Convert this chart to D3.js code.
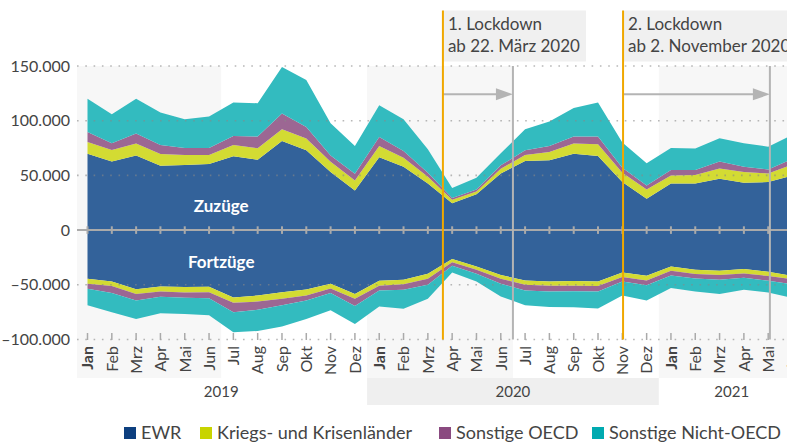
<!DOCTYPE html>
<html><head><meta charset="utf-8">
<script src="https://cdn.jsdelivr.net/npm/d3@7"></script>
<style>body{margin:0;background:#fff}svg{display:block;font-family:Lato,"Open Sans",sans-serif}</style>
</head><body><svg id="c" width="787" height="443"></svg>
<script>
// ---------- data ----------
const monthNames = ["Jan","Feb","Mrz","Apr","Mai","Jun","Jul","Aug","Sep","Okt","Nov","Dez"];
const years = [2019, 2020, 2021];
const nPeriods = 30; // Jan 2019 .. Jun 2021
const seriesNames = ["EWR", "Kriegs- und Krisenländer", "Sonstige OECD", "Sonstige Nicht-OECD"];
const seriesColors = ["#33629a", "#d3db33", "#9c6793", "#33bbbf"];
const legendColors = ["#0d3f7f", "#c8d400", "#8a4a80", "#00aab0"];

const zuzuegeEWR = [69900,62800,68300,58900,59500,60400,67400,64400,81500,72900,53000,36200,66500,58000,42700,24500,32800,51800,63100,63800,69900,67700,43900,28600,42700,42700,47000,43300,43900,50000];
const zuzuegeKrieg = [10700,10400,10800,10700,9200,8300,10400,10400,10700,10800,9500,9200,10400,8200,6100,3300,2500,4300,5500,7600,9200,10700,8600,8600,7300,7600,9400,9700,7900,10000];
const zuzuegeOECD = [9100,6200,9200,8200,6400,6400,8300,10700,14400,10600,5800,6100,8300,6100,3700,1500,1900,3100,4300,5500,6400,7100,4600,3600,4900,4600,6200,5000,3700,5000];
const zuzuegeNichtOECD = [30300,26600,31700,29700,26300,28700,30600,30500,42400,42900,29400,25400,29000,29100,21400,9100,10700,11000,19300,22300,26000,31200,22900,20200,20200,19600,21300,21400,20800,22000];

const fortzuegeEWR = [-44500,-47000,-54000,-51500,-52100,-51800,-61600,-59800,-56700,-54300,-49100,-58500,-46300,-45400,-39900,-26400,-33200,-41100,-46000,-47000,-46600,-47000,-38700,-41700,-33200,-36200,-37200,-35600,-38100,-42000];
const fortzuegeKrieg = [-4600,-4200,-4500,-4600,-4900,-4900,-4900,-5500,-6100,-5500,-4300,-4300,-4600,-4000,-4600,-3100,-3000,-3400,-4000,-3900,-4300,-4200,-4200,-4300,-4000,-4000,-3900,-4000,-3900,-3000];
const fortzuegeOECD = [-4600,-6400,-5900,-4900,-4900,-5500,-8500,-7600,-5800,-4600,-4200,-6500,-4300,-5200,-5500,-3100,-3700,-4600,-5200,-5200,-4900,-4900,-4100,-4300,-4200,-4000,-4300,-4000,-4300,-4500];
const fortzuegeNichtOECD = [-14900,-17400,-16800,-15000,-14700,-15600,-18400,-19300,-19600,-16800,-15600,-16500,-14700,-17400,-12800,-6100,-7100,-11600,-13400,-14100,-14700,-15600,-12800,-14100,-11600,-11900,-13100,-11000,-10700,-12500];

const yTicks = [-100000, -50000, 0, 50000, 100000, 150000];
// lockdowns: start/end as fractional month index (0 = Jan 2019)
const lockdowns = [
  {line1: "1. Lockdown", line2: "ab 22. März 2020", start: 14.62, end: 17.5},
  {line1: "2. Lockdown", line2: "ab 2. November 2020", start: 22.03, end: 28.07}
];

// ---------- setup ----------
const svg = d3.select("#c");
const W = 787;
const plotLeft = 77, plotTop = 66, plotBottom = 339.5, labelBottom = 378, yearBottom = 405;
const x = d3.scaleLinear().domain([0, 29]).range([87.5, 792.5]);
const y = d3.scaleLinear().domain([-100000, 150000]).range([339.5, 66]);
const loc = d3.formatLocale({decimal: ",", thousands: ".", grouping: [3], currency: ["", ""], minus: "–"});
const fmt = loc.format(",");
const textCol = "#444";

// background half-year bands
for (let h = 0; h < 5; h += 2) {
  const x0 = Math.max(plotLeft, x(h * 6 - 0.5));
  const x1 = x(h * 6 + 5.5);
  svg.append("rect").attr("x", x0).attr("y", plotTop).attr("width", x1 - x0)
    .attr("height", labelBottom - plotTop).attr("fill", "#f7f7f7");
}
// year band 2020
svg.append("rect").attr("x", x(11.5)).attr("y", labelBottom).attr("width", x(23.5) - x(11.5))
  .attr("height", yearBottom - labelBottom).attr("fill", "#efefef");

// ---------- areas ----------
const idx = d3.range(nPeriods);
const inRows = idx.map(i => ({i, s0: zuzuegeEWR[i], s1: zuzuegeKrieg[i], s2: zuzuegeOECD[i], s3: zuzuegeNichtOECD[i]}));
const outRows = idx.map(i => ({i, s0: fortzuegeEWR[i], s1: fortzuegeKrieg[i], s2: fortzuegeOECD[i], s3: fortzuegeNichtOECD[i]}));
const keys = ["s0", "s1", "s2", "s3"];
const stack = d3.stack().keys(keys).offset(d3.stackOffsetDiverging);
const area = d3.area().x(d => x(d.data.i)).y0(d => y(d[0])).y1(d => y(d[1]));
[stack(inRows), stack(outRows)].forEach(st => {
  st.forEach((layer, k) => {
    svg.append("path").attr("d", area(layer)).attr("fill", seriesColors[k]);
  });
});

// gridlines
yTicks.filter(v => v !== 0).forEach(v => {
  svg.append("line").attr("x1", plotLeft).attr("x2", W).attr("y1", y(v)).attr("y2", y(v))
    .attr("stroke", "#888").attr("stroke-opacity", 0.6).attr("stroke-width", 1.6)
    .attr("stroke-dasharray", "1.6,6.7");
});
// y labels
yTicks.forEach(v => {
  svg.append("text").attr("x", 70).attr("y", y(v)).attr("dy", "0.35em")
    .attr("text-anchor", "end").attr("font-size", 16).attr("fill", textCol).text(fmt(v));
});

// zero line + ticks
svg.append("line").attr("x1", plotLeft).attr("x2", W).attr("y1", y(0)).attr("y2", y(0))
  .attr("stroke", "#aaa").attr("stroke-width", 2);
idx.forEach(i => {
  svg.append("line").attr("x1", x(i)).attr("x2", x(i)).attr("y1", y(0) - 3.8).attr("y2", y(0) + 3.8)
    .attr("stroke", "#aaa").attr("stroke-width", 2);
  svg.append("line").attr("x1", x(i)).attr("x2", x(i)).attr("y1", y(-100000) - 6.5).attr("y2", y(-100000) + 0.5)
    .attr("stroke", "#aaa").attr("stroke-width", 1.5);
});

// month labels
idx.forEach(i => {
  const m = i % 12;
  svg.append("text").attr("transform", `translate(${x(i)},346) rotate(-90)`)
    .attr("dy", "0.36em").attr("text-anchor", "end").attr("font-size", 16)
    .attr("font-weight", m === 0 ? "bold" : "normal").attr("fill", textCol).text(monthNames[m]);
});
// year labels
years.forEach((yr, k) => {
  const i0 = k * 12, i1 = Math.min(k * 12 + 11, nPeriods - 1);
  const cx = (x(i0 - 0.5) + x(i1 + 0.5)) / 2;
  svg.append("text").attr("x", cx).attr("y", 392).attr("dy", "0.35em").attr("text-anchor", "middle")
    .attr("font-size", 15).attr("fill", textCol).text(yr);
});

// series labels
svg.append("text").attr("x", x(5.5)).attr("y", 206).attr("dy", "0.35em").attr("text-anchor", "middle")
  .attr("font-size", 17).attr("font-weight", "bold").attr("fill", "#fff").text("Zuzüge");
svg.append("text").attr("x", x(5.5)).attr("y", 262).attr("dy", "0.35em").attr("text-anchor", "middle")
  .attr("font-size", 17).attr("font-weight", "bold").attr("fill", "#fff").text("Fortzüge");

// ---------- lockdown annotations ----------
lockdowns.forEach(ld => {
  const xs = x(ld.start), xe = x(ld.end);
  svg.append("line").attr("x1", xe).attr("x2", xe).attr("y1", plotTop).attr("y2", plotBottom)
    .attr("stroke", "#b4b4b4").attr("stroke-width", 2);
  svg.append("line").attr("x1", xs).attr("x2", xe - 15).attr("y1", 94.3).attr("y2", 94.3)
    .attr("stroke", "#b4b4b4").attr("stroke-width", 2);
  svg.append("path").attr("d", `M${xe},94.3 L${xe - 17},88.3 L${xe - 17},100.3 Z`).attr("fill", "#b4b4b4");
  const g = svg.append("g");
  const box = g.append("rect").attr("x", xs).attr("y", 10.5).attr("height", 51).attr("fill", "#f0f0f0");
  const t1 = g.append("text").attr("x", xs + 5).attr("y", 30).attr("font-size", 17).attr("fill", textCol).text(ld.line1);
  const t2 = g.append("text").attr("x", xs + 5).attr("y", 51.5).attr("font-size", 17).attr("fill", textCol).text(ld.line2);
  const w = Math.max(t1.node().getComputedTextLength(), t2.node().getComputedTextLength());
  box.attr("width", w + 11);
  svg.append("line").attr("x1", xs).attr("x2", xs).attr("y1", 10.5).attr("y2", plotBottom)
    .attr("stroke", "#f0a800").attr("stroke-width", 2);
});

// ---------- legend ----------
const legendX = [124, 200, 439, 592];
seriesNames.forEach((n, k) => {
  svg.append("rect").attr("x", legendX[k]).attr("y", 427).attr("width", 12).attr("height", 12).attr("fill", legendColors[k]);
  svg.append("text").attr("x", legendX[k] + 17).attr("y", 433).attr("dy", "0.35em")
    .attr("font-size", 18).attr("fill", textCol).text(n);
});
</script></body></html>
